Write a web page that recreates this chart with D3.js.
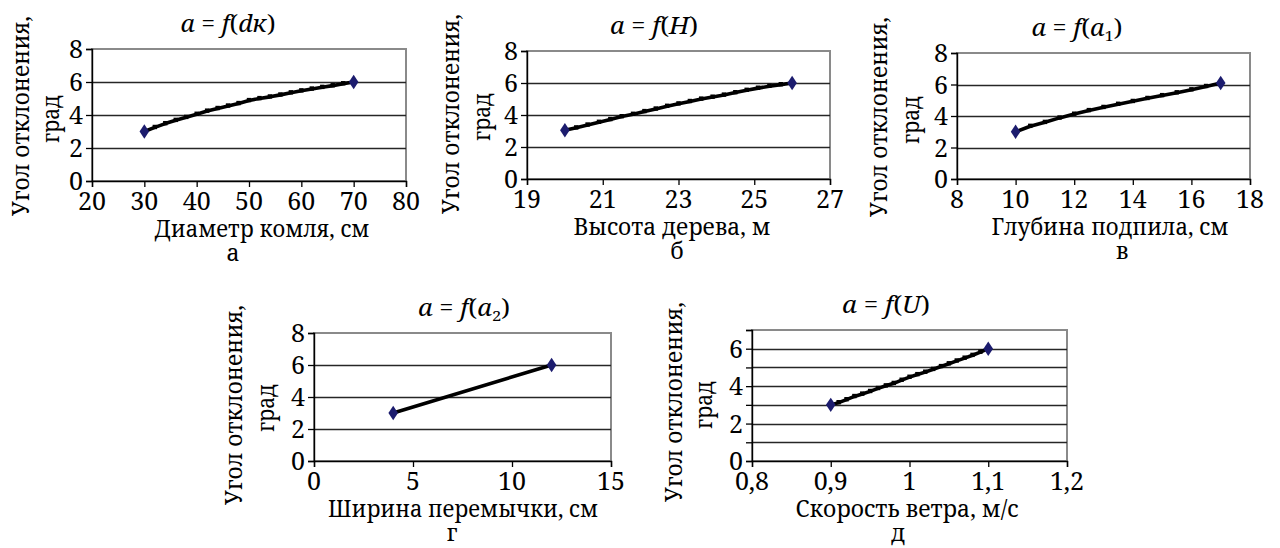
<!DOCTYPE html>
<html>
<head>
<meta charset="utf-8">
<script src="https://cdn.jsdelivr.net/npm/d3@7"></script>
</head>
<body style="margin:0">
<svg id="chart" width="1280" height="548"></svg>
<script>
// Angle of deflection vs. each factor (degrees)
const diamX = [30, 32, 34, 36, 38, 40, 42, 44, 46, 48, 50, 52, 54, 56, 58, 60, 62, 64, 66, 68, 70];
const diamY = [3.0, 3.25, 3.48, 3.68, 3.86, 4.05, 4.24, 4.4, 4.55, 4.7, 4.88, 5.0, 5.1, 5.22, 5.35, 5.47, 5.58, 5.68, 5.78, 5.9, 6.0];

const heightX = [20, 20.3, 20.6, 20.9, 21.2, 21.5, 21.8, 22.1, 22.4, 22.7, 23, 23.3, 23.6, 23.9, 24.2, 24.5, 24.8, 25.1, 25.4, 25.7, 26];
const heightY = [3.05, 3.2, 3.38, 3.55, 3.72, 3.9, 4.05, 4.22, 4.38, 4.55, 4.7, 4.85, 5.0, 5.12, 5.25, 5.4, 5.55, 5.68, 5.8, 5.9, 6.0];

const cutX = [10, 10.5, 11, 11.5, 12, 12.5, 13, 13.5, 14, 14.5, 15, 15.5, 16, 16.5, 17];
const cutY = [3.0, 3.35, 3.6, 3.88, 4.12, 4.35, 4.55, 4.75, 4.93, 5.12, 5.3, 5.48, 5.67, 5.88, 6.1];

const bridgeX = [4, 12];
const bridgeY = [3, 6];

const windX = [0.9, 0.91, 0.92, 0.93, 0.94, 0.95, 0.96, 0.97, 0.98, 0.99, 1.0, 1.01, 1.02, 1.03, 1.04, 1.05, 1.06, 1.07, 1.08, 1.09, 1.1];
const windY = [3.0, 3.12, 3.28, 3.45, 3.58, 3.72, 3.88, 4.02, 4.15, 4.32, 4.48, 4.62, 4.75, 4.9, 5.05, 5.2, 5.35, 5.5, 5.65, 5.82, 6.0];

// Tick labels
const diamTicks = [20, 30, 40, 50, 60, 70, 80];
const heightTicks = [19, 21, 23, 25, 27];
const cutTicks = [8, 10, 12, 14, 16, 18];
const bridgeTicks = [0, 5, 10, 15];
const windTicks = [0.8, 0.9, 1.0, 1.1, 1.2];
const yTicks8 = [0, 2, 4, 6, 8];
const yTicks7 = [0, 2, 4, 6];
const yGrid8 = [2, 4, 6];
const yGrid7 = [1, 2, 3, 4, 5, 6];

const yLabel1 = "Угол отклонения,";
const yLabel2 = "град";

const FONT = "'Noto Serif', 'Liberation Serif', serif";

const panels = [
  { xs: diamX, ys: diamY, xDom: [20, 80], xTicks: diamTicks, yDom: [0, 8], yTicks: yTicks8, grid: yGrid8,
    title: ["a", " = ", "f", "(", "dк", ")"], xTitle: "Диаметр комля, см", letter: "а",
    left: 92, top: 49, w: 314, h: 132,
    tX: 228, tW: 95, xtX: 262, xtW: 215, lX: 233, yl1: 28.5, yl2: 58.5, ylY: 116 },
  { xs: heightX, ys: heightY, xDom: [19, 27], xTicks: heightTicks, yDom: [0, 8], yTicks: yTicks8, grid: yGrid8,
    title: ["a", " = ", "f", "(", "H", ")"], xTitle: "Высота дерева, м", letter: "б",
    left: 527, top: 51, w: 303, h: 128,
    tX: 654, tW: 88, xtX: 672, xtW: 197, lX: 677, yl1: 458.5, yl2: 489.5, ylY: 114 },
  { xs: cutX, ys: cutY, xDom: [8, 18], xTicks: cutTicks, yDom: [0, 8], yTicks: yTicks8, grid: yGrid8,
    title: ["a", " = ", "f", "(", "a", "1", ")"], xTitle: "Глубина подпила, см", letter: "в",
    left: 957, top: 53, w: 293, h: 126,
    tX: 1077, tW: 91, xtX: 1110, xtW: 237, lX: 1122, yl1: 886.5, yl2: 918.5, ylY: 117 },
  { xs: bridgeX, ys: bridgeY, xDom: [0, 15], xTicks: bridgeTicks, yDom: [0, 8], yTicks: yTicks8, grid: yGrid8,
    title: ["a", " = ", "f", "(", "a", "2", ")"], xTitle: "Ширина перемычки, см", letter: "г",
    left: 314, top: 333, w: 297, h: 128,
    tX: 464, tW: 92, xtX: 463, xtW: 270, lX: 452, yl1: 241.5, yl2: 273.5, ylY: 405 },
  { xs: windX, ys: windY, xDom: [0.8, 1.2], xTicks: windTicks, yDom: [0, 7], yTicks: yTicks7, grid: yGrid7,
    title: ["a", " = ", "f", "(", "U", ")"], xTitle: "Скорость ветра, м/с", letter: "д",
    left: 752, top: 330, w: 315, h: 131,
    tX: 886, tW: 88, xtX: 907, xtW: 223, lX: 898, yl1: 681.5, yl2: 711.5, ylY: 402 }
];

const svg = d3.select("#chart");
const fmt = d => String(d).replace(".", ",");

panels.forEach(p => {
  const x = d3.scaleLinear().domain(p.xDom).range([p.left, p.left + p.w]);
  const y = d3.scaleLinear().domain(p.yDom).range([p.top + p.h, p.top]);

  // plot-area frame
  svg.append("rect")
    .attr("x", p.left).attr("y", p.top).attr("width", p.w).attr("height", p.h)
    .attr("fill", "none").attr("stroke", "#8a8a8a").attr("stroke-width", 2);

  // horizontal gridlines
  svg.selectAll(null).data(p.grid).join("line")
    .attr("x1", p.left).attr("x2", p.left + p.w)
    .attr("y1", d => Math.round(y(d)) + 0.5).attr("y2", d => Math.round(y(d)) + 0.5)
    .attr("stroke", "#262626").attr("stroke-width", 1.3);

  // axes (lines and tick marks; labels are placed as text below)
  const xAxis = d3.axisBottom(x).tickValues(p.xTicks).tickSize(6).tickFormat("");
  const yAxis = d3.axisLeft(y).tickValues(p.grid.concat([p.yDom[0], p.yDom[1]])).tickSize(6).tickFormat("");
  const gx = svg.append("g").attr("transform", `translate(0,${p.top + p.h})`).call(xAxis);
  const gy = svg.append("g").attr("transform", `translate(${p.left},0)`).call(yAxis);
  [gx, gy].forEach(ax => {
    ax.select(".domain").attr("stroke", "#000").attr("stroke-width", 1.4);
    ax.selectAll(".tick line").attr("stroke", "#000").attr("stroke-width", 1.3);
    ax.selectAll(".tick text").remove();
  });

  // tick labels
  p.xTicks.forEach(v => {
    svg.append("text").attr("x", x(v)).attr("y", p.top + p.h + 29)
      .attr("text-anchor", "middle")
      .style("font-family", FONT).style("font-size", "25px").text(fmt(v));
  });
  p.yTicks.forEach(v => {
    svg.append("text").attr("x", p.left - 9).attr("y", y(v) + 9)
      .attr("text-anchor", "end")
      .style("font-family", FONT).style("font-size", "25px").text(fmt(v));
  });

  // data line
  const line = d3.line().x((d, i) => x(p.xs[i])).y(d => y(d));
  svg.append("path").datum(p.ys).attr("d", line)
    .attr("fill", "none").attr("stroke", "#000").attr("stroke-width", 3.6)
    .attr("stroke-linejoin", "round").attr("stroke-linecap", "round");

  // small point markers along the line
  p.ys.slice(1, -1).forEach((v, i) => {
    svg.append("rect").attr("x", x(p.xs[i + 1]) - 2.2).attr("y", y(v) - 2.6)
      .attr("width", 4.4).attr("height", 4.4).attr("fill", "#000");
  });

  // endpoint diamonds
  [0, p.ys.length - 1].forEach(i => {
    svg.append("path")
      .attr("d", d3.symbol().type(d3.symbolDiamond).size(60)())
      .attr("transform", `translate(${x(p.xs[i])},${y(p.ys[i])}) scale(1.15,1)`)
      .attr("fill", "#1c1c6e");
  });

  // title: a = f(...)
  const t = svg.append("text").attr("x", p.tX).attr("y", p.top - 17)
    .attr("text-anchor", "middle")
    .style("font-family", FONT).style("font-size", "23px")
    .attr("textLength", p.tW).attr("lengthAdjust", "spacingAndGlyphs");
  const hasSub = p.title.includes("1") || p.title.includes("2");
  p.title.forEach(s => {
    const isSub = (s === "1" || s === "2");
    const italic = (s === "a" || s === "f" || s === "dк" || s === "H" || s === "U");
    const ts = t.append("tspan").text(s);
    if (italic) ts.style("font-style", "italic");
    if (isSub) ts.style("font-size", "15px").attr("dy", 5);
    else if (s === ")" && hasSub) ts.attr("dy", -5);
  });

  // axis title + sub-figure letter
  svg.append("text").attr("x", p.xtX).attr("y", p.top + p.h + 56)
    .attr("text-anchor", "middle")
    .style("font-family", FONT).style("font-size", "24px")
    .attr("textLength", p.xtW).attr("lengthAdjust", "spacingAndGlyphs").text(p.xTitle);
  svg.append("text").attr("x", p.lX).attr("y", p.top + p.h + 80)
    .attr("text-anchor", "middle")
    .style("font-family", FONT).style("font-size", "23px").text(p.letter);

  // y axis title, two rotated lines
  svg.append("text").attr("transform", `translate(${p.yl1},${p.ylY}) rotate(-90)`)
    .attr("text-anchor", "middle")
    .style("font-family", FONT).style("font-size", "23px")
    .attr("textLength", 200).attr("lengthAdjust", "spacingAndGlyphs").text(yLabel1);
  svg.append("text").attr("transform", `translate(${p.yl2},${p.ylY + 3}) rotate(-90)`)
    .attr("text-anchor", "middle")
    .style("font-family", FONT).style("font-size", "23px")
    .attr("textLength", 48).attr("lengthAdjust", "spacingAndGlyphs").text(yLabel2);
});
</script>
</body>
</html>
